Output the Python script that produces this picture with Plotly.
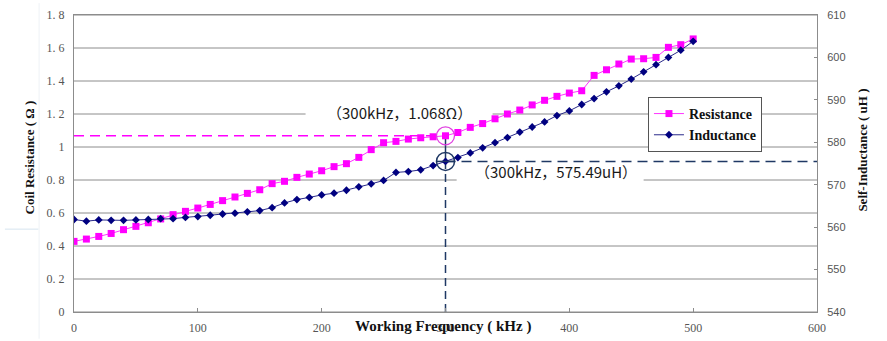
import plotly.graph_objects as go

# ---------------- data ----------------
freq_khz = [0, 10, 20, 30, 40, 50, 60, 70, 80, 90, 100, 110, 120, 130, 140, 150, 160,
            170, 180, 190, 200, 210, 220, 230, 240, 250, 260, 270, 280, 290, 300, 310, 320, 330,
            340, 350, 360, 370, 380, 390, 400, 410, 420, 430, 440, 450, 460, 470, 480, 490, 500]

resistance = [0.428, 0.442, 0.458, 0.476, 0.499, 0.519, 0.541, 0.564, 0.590, 0.610, 0.630,
              0.652, 0.675, 0.697, 0.719, 0.741, 0.778,
              0.792, 0.816, 0.836, 0.856, 0.881, 0.899, 0.937, 0.984, 1.026, 1.034, 1.048,
              1.056, 1.062, 1.068, 1.088, 1.119, 1.142,
              1.171, 1.200, 1.224, 1.255, 1.283, 1.307, 1.327, 1.341, 1.434, 1.468, 1.503,
              1.533, 1.535, 1.543, 1.604, 1.620, 1.655]

inductance = [561.8, 561.4, 561.7, 561.6, 561.6, 561.7, 561.8, 562.0, 562.0, 562.3, 562.5,
              562.8, 563.1, 563.3, 563.6, 563.9, 564.6,
              565.7, 566.5, 567.0, 567.6, 568.0, 568.7, 569.5, 570.2, 571.0, 572.9, 573.1,
              573.5, 574.5, 575.49, 576.4, 577.5, 578.7,
              579.9, 581.1, 582.4, 583.6, 584.8, 586.3, 587.4, 588.9, 590.3, 591.9, 593.3,
              594.9, 596.6, 598.3, 600.0, 601.7, 603.8]

left_tickvals = [0, 0.2, 0.4, 0.6, 0.8, 1.0, 1.2, 1.4, 1.6, 1.8]
left_ticktext = ["0", "0. 2", "0. 4", "0. 6", "0. 8", "1", "1. 2", "1. 4", "1. 6", "1. 8"]
right_tickvals = [540, 550, 560, 570, 580, 590, 600, 610]
x_tickvals = [0, 100, 200, 300, 400, 500, 600]

mark_freq = 300
mark_res = 1.068
mark_ind = 575.49
label_res = "（300kHz，1.068Ω）"
label_ind = "（300kHz，575.49uH）"

series_names = ["Resistance", "Inductance"]
x_title = "Working Frequency ( kHz )"
y_title = "Coil Resistance ( Ω )"
y2_title = "Self-Inductance ( uH )"

# ---------------- styles ----------------
MAGENTA = "#FF00FF"
NAVY = "#000080"
NAVY_GUIDE = "#1f3864"
GRID = "#8c8c8c"
TICK_COLOR = "#555555"
SERIF = "Liberation Serif"
CJK = "Noto Sans CJK SC"

Y_RANGE = [0, 1.8]
Y2_RANGE = [540, 610]
X_RANGE = [0, 600]


def y2_to_y(v):
    return Y_RANGE[0] + (v - Y2_RANGE[0]) / (Y2_RANGE[1] - Y2_RANGE[0]) * (Y_RANGE[1] - Y_RANGE[0])


fig = go.Figure()
fig.add_trace(go.Scatter(
    x=freq_khz, y=resistance, name=series_names[0], mode="lines+markers",
    line=dict(color="#FF33FF", width=1),
    marker=dict(symbol="square", size=7, color=MAGENTA),
    yaxis="y"))
fig.add_trace(go.Scatter(
    x=freq_khz, y=inductance, name=series_names[1], mode="lines+markers",
    line=dict(color="#2a2a8a", width=1),
    marker=dict(symbol="diamond", size=6, color=NAVY),
    yaxis="y2"))

shapes = []
# gridlines (drawn as shapes so label backgrounds can sit above them but below data)
for v in left_tickvals:
    shapes.append(dict(type="line", xref="paper", yref="y", x0=0, x1=1, y0=v, y1=v,
                       line=dict(color=GRID, width=1), layer="below"))
# white label backgrounds
shapes.append(dict(type="rect", xref="x", yref="y", x0=187, x1=338, y0=1.153, y1=1.262,
                   fillcolor="white", line=dict(width=0), layer="below"))
shapes.append(dict(type="rect", xref="x", yref="y", x0=309, x1=460,
                   y0=y2_to_y(570.0), y1=y2_to_y(574.6),
                   fillcolor="white", line=dict(width=0), layer="below"))
# guide lines
shapes.append(dict(type="line", xref="x", yref="y", x0=X_RANGE[0], x1=mark_freq, y0=mark_res, y1=mark_res,
                   line=dict(color=MAGENTA, width=1.5, dash="10px,6px"), layer="below"))
shapes.append(dict(type="line", xref="x", yref="y", x0=mark_freq, x1=mark_freq, y0=Y_RANGE[0], y1=y2_to_y(mark_ind),
                   line=dict(color=NAVY_GUIDE, width=1.5, dash="8px,5px"), layer="below"))
shapes.append(dict(type="line", xref="x", yref="y", x0=mark_freq, x1=mark_freq, y0=y2_to_y(mark_ind), y1=mark_res,
                   line=dict(color=NAVY_GUIDE, width=1.5), layer="below"))
shapes.append(dict(type="line", xref="x", yref="y", x0=mark_freq, x1=X_RANGE[1],
                   y0=y2_to_y(mark_ind), y1=y2_to_y(mark_ind),
                   line=dict(color=NAVY_GUIDE, width=1.5, dash="10px,6px"), layer="below"))
# circles
shapes.append(dict(type="circle", xref="x", yref="y", xsizemode="pixel", ysizemode="pixel",
                   xanchor=mark_freq, yanchor=mark_res, x0=-9, x1=9, y0=-9, y1=9,
                   line=dict(color="#E040E0", width=1.3)))
shapes.append(dict(type="circle", xref="x", yref="y", xsizemode="pixel", ysizemode="pixel",
                   xanchor=mark_freq, yanchor=y2_to_y(mark_ind), x0=-9, x1=9, y0=-9, y1=9,
                   line=dict(color=NAVY_GUIDE, width=1.5)))
shapes.append(dict(type="line", xref="x", yref="y", xsizemode="pixel", ysizemode="pixel",
                   xanchor=mark_freq, yanchor=y2_to_y(mark_ind), x0=-9, x1=9, y0=0, y1=0,
                   line=dict(color=NAVY_GUIDE, width=1.5)))
# faint artefact lines near the left title
shapes.append(dict(type="line", xref="paper", yref="paper", x0=-0.047, x1=-0.047, y0=-0.09, y1=1.04,
                   line=dict(color="#eef2f6", width=1)))
shapes.append(dict(type="line", xref="paper", yref="paper", x0=-0.093, x1=-0.048, y0=0.279, y1=0.279,
                   line=dict(color="#d6e4ef", width=1)))

annotations = [
    dict(text=label_res, x=262.5, y=1.208, xref="x", yref="y", showarrow=False,
         font=dict(family=CJK, size=15, color="#1a1a1a")),
    dict(text=label_ind, x=389, y=573.0, xref="x", yref="y2", showarrow=False,
         font=dict(family=CJK, size=15, color="#1a1a1a")),
    dict(text=x_title, x=0.497, y=-0.05, xref="paper", yref="paper", showarrow=False,
         yanchor="middle", font=dict(family=SERIF, size=15, color="#111111", weight="bold")),
    dict(text=y_title, x=-0.0727, y=0.522, xref="paper", yref="paper", showarrow=False,
         textangle=-90, font=dict(family=SERIF, size=13, color="#111111", weight="bold")),
    dict(text=y2_title, x=1.074, y=0.545, xref="paper", yref="paper", showarrow=False,
         textangle=-90, font=dict(family=SERIF, size=13, color="#111111", weight="bold")),
]

fig.update_layout(
    width=887, height=341,
    margin=dict(l=74, r=70, t=15, b=29, autoexpand=False),
    paper_bgcolor="white", plot_bgcolor="white",
    showlegend=True,
    legend=dict(x=0.7725, y=0.724, xanchor="left", yanchor="top",
                bgcolor="white", bordercolor="#555555", borderwidth=1,
                font=dict(family=SERIF, size=14, color="#111111", weight="bold"),
                tracegroupgap=0, itemwidth=30),
    xaxis=dict(range=X_RANGE, tickvals=x_tickvals, showgrid=False, zeroline=False,
               showline=True, linecolor=GRID, linewidth=1, mirror=True,
               ticks="inside", ticklen=4, tickcolor=GRID, ticklabelstandoff=5,
               automargin=False,
               tickfont=dict(family=SERIF, size=12, color=TICK_COLOR)),
    yaxis=dict(range=Y_RANGE, tickvals=left_tickvals, ticktext=left_ticktext,
               showgrid=False, zeroline=False,
               showline=True, linecolor=GRID, linewidth=1,
               ticks="", ticklabelstandoff=6, automargin=False,
               tickfont=dict(family=SERIF, size=12, color=TICK_COLOR)),
    yaxis2=dict(range=Y2_RANGE, tickvals=right_tickvals, overlaying="y", side="right",
                showgrid=False, zeroline=False, showline=True, linecolor=GRID, linewidth=1,
                ticks="inside", ticklen=3, tickcolor=GRID, ticklabelstandoff=7,
                automargin=False,
                tickfont=dict(family="Liberation Sans", size=11, color=TICK_COLOR)),
    shapes=shapes,
    annotations=annotations,
)

fig.write_html("out.html")
